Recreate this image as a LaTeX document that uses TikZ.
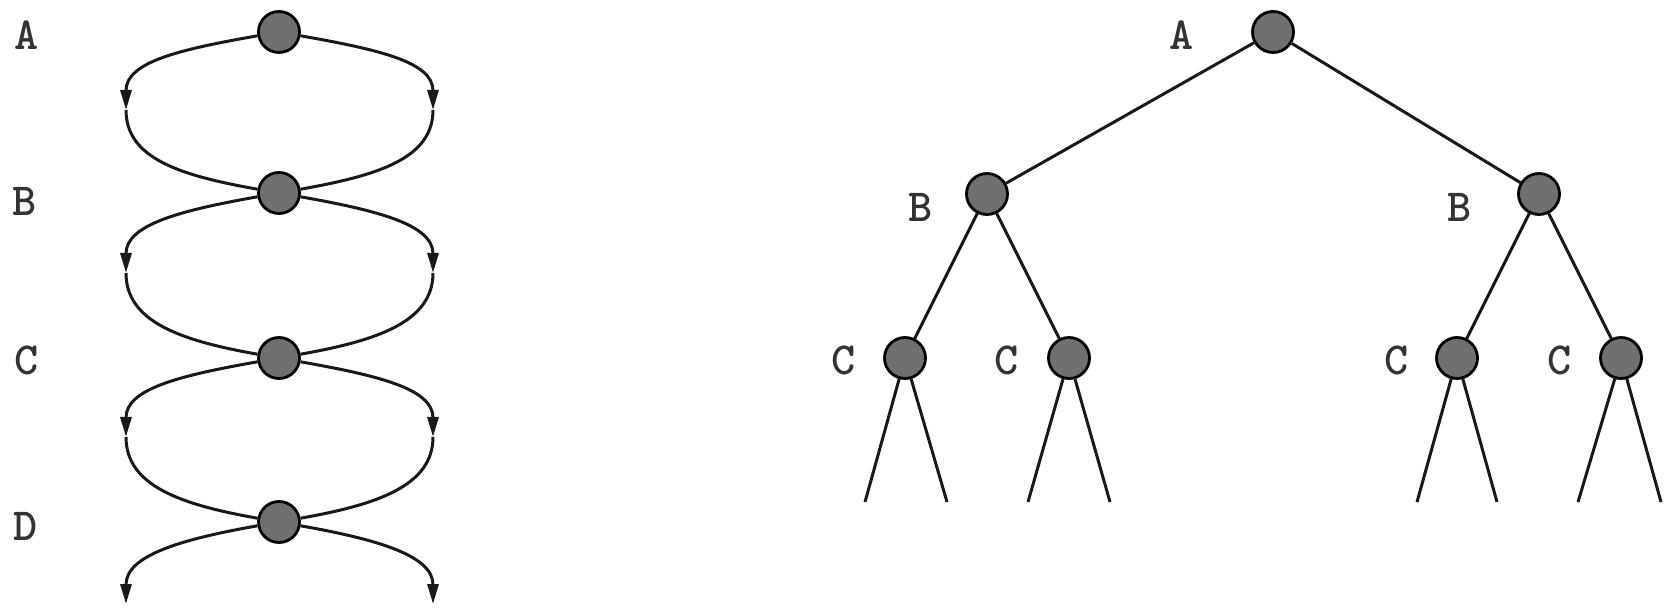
\documentclass[tikz,border=0pt]{standalone}
\usetikzlibrary{arrows.meta}
\definecolor{dotgray}{RGB}{112,112,112}
\begin{document}
\begin{tikzpicture}[x=1pt,y=1pt,
  dot/.style={circle,draw=black,fill=dotgray,line width=2.8pt,minimum size=41pt,inner sep=0pt},
  lab/.style={font=\ttfamily\bfseries\fontsize{46}{46}\selectfont,inner sep=0pt,text=black!80},
  edge/.style={line width=3pt,draw=black!90},
  arr/.style={edge,-{Triangle[length=20pt,width=11pt]}},
  lout/.style={out=190,in=90,out distance=80pt,in distance=48pt},
  rout/.style={out=-10,in=90,out distance=80pt,in distance=48pt},
  lin/.style={out=-90,in=170,out distance=48pt,in distance=80pt},
  rin/.style={out=-90,in=10,out distance=48pt,in distance=80pt}]
\useasboundingbox (0,0) rectangle (1667,608);
% ---------- left chain ----------
\node[dot] (A) at (279,576) {};
\node[dot] (B) at (279,415) {};
\node[dot] (C) at (279,250) {};
\node[dot] (D) at (279,86) {};
\node[lab] (lA) at (27,573) {A};
\node[lab] (lB) at (25,407) {B};
\node[lab] (lC) at (27,248) {C};
\node[lab] (lD) at (26,82) {D};
\coordinate (la) at (126,498);
\coordinate (ra) at (433,498);
\coordinate (lb) at (126,335);
\coordinate (rb) at (433,335);
\coordinate (lc) at (126,171);
\coordinate (rc) at (433,171);
\coordinate (ld) at (126,4);
\coordinate (rd) at (433,4);
\draw[arr] (A) to[lout] (la);
\draw[edge] (la) to[lin] (B);
\draw[arr] (A) to[rout] (ra);
\draw[edge] (ra) to[rin] (B);
\draw[arr] (B) to[lout] (lb);
\draw[edge] (lb) to[lin] (C);
\draw[arr] (B) to[rout] (rb);
\draw[edge] (rb) to[rin] (C);
\draw[arr] (C) to[lout] (lc);
\draw[edge] (lc) to[lin] (D);
\draw[arr] (C) to[rout] (rc);
\draw[edge] (rc) to[rin] (D);
\draw[arr] (D) to[lout] (ld);
\draw[arr] (D) to[rout] (rd);
% ---------- right tree ----------
\node[dot] (RA) at (1273,576) {};
\node[dot] (RB1) at (987,414) {};
\node[dot] (RB2) at (1539,414) {};
\node[dot] (RC1) at (905,250) {};
\node[dot] (RC2) at (1069,250) {};
\node[dot] (RC3) at (1457,250) {};
\node[dot] (RC4) at (1621,250) {};
\node[lab] (rlA) at (1182,573) {A};
\node[lab] (rlB1) at (921,401) {B};
\node[lab] (rlB2) at (1460,401) {B};
\node[lab] (rlC1) at (844,248) {C};
\node[lab] (rlC2) at (1007,248) {C};
\node[lab] (rlC3) at (1397,248) {C};
\node[lab] (rlC4) at (1560,248) {C};
\draw[edge] (RA) -- (RB1);
\draw[edge] (RA) -- (RB2);
\draw[edge] (RB1) -- (RC1);
\draw[edge] (RB1) -- (RC2);
\draw[edge] (RB2) -- (RC3);
\draw[edge] (RB2) -- (RC4);
\coordinate (t1) at (865,106); \coordinate (t2) at (947,106);
\coordinate (t3) at (1028,106); \coordinate (t4) at (1110,106);
\coordinate (t5) at (1417,106); \coordinate (t6) at (1497,106);
\coordinate (t7) at (1578,106); \coordinate (t8) at (1661,106);
\draw[edge] (RC1) -- (t1); \draw[edge] (RC1) -- (t2);
\draw[edge] (RC2) -- (t3); \draw[edge] (RC2) -- (t4);
\draw[edge] (RC3) -- (t5); \draw[edge] (RC3) -- (t6);
\draw[edge] (RC4) -- (t7); \draw[edge] (RC4) -- (t8);
\end{tikzpicture}
\end{document}
